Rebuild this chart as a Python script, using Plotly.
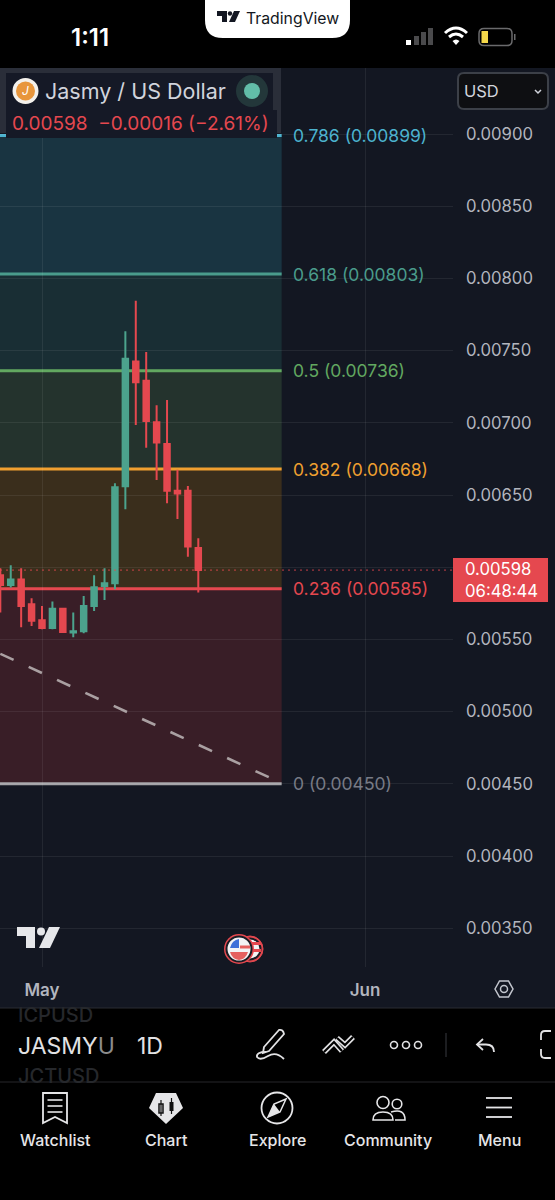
import re
from datetime import datetime, timedelta
import plotly.graph_objects as go

# ---- data -------------------------------------------------------------
dates = ["2025-04-27","2025-04-28","2025-04-29","2025-04-30","2025-05-01","2025-05-02","2025-05-03",
         "2025-05-04","2025-05-05","2025-05-06","2025-05-07","2025-05-08","2025-05-09","2025-05-10",
         "2025-05-11","2025-05-12","2025-05-13","2025-05-14","2025-05-15","2025-05-16"]
opens  = [.005944,.005877,.005914,.005743,.005632,.005579,.005713,.005547,.005556,.005732,.005870,.005889,.006560,.007424,.007292,.007004,.006854,.006530,.006530,.006133]
highs  = [.005993,.006013,.005993,.005785,.005732,.005762,.005713,.005686,.005801,.005944,.005993,.006581,.007634,.007846,.007491,.007121,.007158,.006674,.006563,.006200]
lows   = [.005686,.005859,.005584,.005593,.005570,.005570,.005552,.005515,.005542,.005697,.005773,.005847,.006401,.006985,.006828,.006604,.006443,.006334,.006073,.005824]
closes = [.005877,.005914,.005732,.005630,.005579,.005713,.005552,.005556,.005732,.005861,.005889,.006553,.007444,.007280,.007013,.006863,.006530,.006510,.006143,.005980]

fib_levels = [0.786, 0.618, 0.5, 0.382, 0.236, 0]
fib_prices = [0.00899, 0.00803, 0.00736, 0.00668, 0.00585, 0.00450]
fib_lines  = ["#4cb3cf", "#4a9c8c", "#62a860", "#f0a030", "#e5484f", "#a4a4a8"]
fib_fills  = ["rgba(59,198,219,0.17)", "rgba(59,158,144,0.17)", "rgba(124,188,99,0.17)", "rgba(255,158,0,0.17)", "rgba(234,68,69,0.18)"]
fib_text   = ["#4cb3cf", "#4a9c8c", "#62a860", "#f0a030", "#e5484f", "#787b86"]
fib_end = "2025-05-24"

trend_dates = ["2025-04-27", "2025-05-22 19:00"]
trend_prices = [0.00540, 0.004545]

price_ticks = [0.0090, 0.0085, 0.0080, 0.0075, 0.0070, 0.0065, 0.0060, 0.0055, 0.0050, 0.0045, 0.0040, 0.0035]
month_ticks = ["2025-05-01", "2025-06-01"]
month_labels = ["May", "Jun"]
last_price = 0.00598
FONT = "Inter"

# ---- layout helpers -----------------------------------------------------
W, H = 555, 1200
PX_PER_DAY = 10.42
may1 = datetime(2025, 5, 1)
x_left = may1 - timedelta(days=42 / PX_PER_DAY)
x_right = may1 + timedelta(days=(453 - 42) / PX_PER_DAY)
def price_at(y):
    return 0.009 - (y - 134) / 72.2 * 0.0005

def pp(s):
    out, i = [], 0
    for tok in s.split():
        if re.fullmatch(r"[A-Za-z]", tok):
            out.append(tok); i = 0
        else:
            v = float(tok)
            out.append(f"{v / W:.5f}" if i % 2 == 0 else f"{1 - v / H:.5f}")
            i += 1
    return " ".join(out)

shapes, annos = [], []
def path(s, fill=None, line=None, lw=0, layer="above"):
    shapes.append(dict(type="path", xref="paper", yref="paper", path=pp(s), layer=layer,
                       fillcolor=fill or "rgba(0,0,0,0)",
                       line=dict(color=line or "rgba(0,0,0,0)", width=lw)))
def rect(x0, y0, x1, y1, fill=None, line=None, lw=0, layer="above"):
    shapes.append(dict(type="rect", xref="paper", yref="paper", x0=x0 / W, x1=x1 / W, y0=1 - y0 / H, y1=1 - y1 / H,
                       layer=layer, fillcolor=fill or "rgba(0,0,0,0)",
                       line=dict(color=line or "rgba(0,0,0,0)", width=lw)))
def circ(cx, cy, r, fill=None, line=None, lw=0):
    shapes.append(dict(type="circle", xref="paper", yref="paper", x0=(cx - r) / W, x1=(cx + r) / W,
                       y0=1 - (cy + r) / H, y1=1 - (cy - r) / H, fillcolor=fill or "rgba(0,0,0,0)",
                       line=dict(color=line or "rgba(0,0,0,0)", width=lw)))
def seg(x0, y0, x1, y1, color, lw):
    path(f"M {x0} {y0} L {x1} {y1}", line=color, lw=lw)
def txt(x, y, s, size, color, anchor="left", weight=400, family=FONT):
    annos.append(dict(xref="paper", yref="paper", x=(x - 1.5 if anchor == "left" else x) / W, y=1 - y / H, text=s,
                      showarrow=False, xanchor=anchor, yanchor="middle", borderpad=0, align=anchor,
                      font=dict(size=size, color=color, family=family, weight=weight)))

# ---- backgrounds --------------------------------------------------------
rect(0, 68, 555, 1008, fill="#131722", layer="below")

# fib zones and lines
for i in range(len(fib_fills)):
    shapes.append(dict(type="rect", xref="x", yref="y", x0=x_left, x1=fib_end, y0=fib_prices[i + 1], y1=fib_prices[i],
                       fillcolor=fib_fills[i], line=dict(width=0), layer="below"))
for lev, pr, c in zip(fib_levels, fib_prices, fib_lines):
    shapes.append(dict(type="line", xref="x", yref="y", x0=x_left, x1=fib_end, y0=pr, y1=pr,
                       line=dict(color=c, width=3), layer="below"))
for lev, pr, c in zip(fib_levels, fib_prices, fib_text):
    annos.append(dict(xref="paper", yref="y", x=291 / W, y=pr, text=f"{lev} ({pr:.5f})", showarrow=False,
                      xanchor="left", yanchor="middle", font=dict(size=17.5, color=c, family=FONT)))

# last price dotted line and tag
shapes.append(dict(type="line", xref="paper", yref="y", x0=0, x1=453 / W, y0=last_price, y1=last_price,
                   line=dict(color="rgba(229,72,79,0.85)", width=1, dash="2px,4px")))
rect(453, 558, 548, 602, fill="#e5484f")
txt(465, 580, f"{last_price:.5f}<br>06:48:44", 16.7, "#ffffff", "left")

# legend
rect(0, 68, 281, 133, fill="#2a2e39")
rect(6, 73, 273, 110, fill="#151926")
rect(6, 110, 277, 138, fill="#151926")
circ(25.5, 91, 13, fill="#f4f1ec")
circ(25.5, 91, 9.5, fill="#e8963c")
txt(25.5, 91, "<i>J</i>", 12, "#ffffff", "center")
txt(45, 91, "Jasmy / US Dollar", 21.5, "#d1d4dc")
circ(252, 91, 16, fill="#23373a")
circ(252, 91, 8, fill="#62bda8")
txt(12, 124, "0.00598 &nbsp;\u22120.00016 (\u22122.61%)", 19, "#e5484f")

# USD selector
path("M 464 73 L 542 73 Q 548 73 548 79 L 548 103 Q 548 109 542 109 L 464 109 Q 458 109 458 103 L 458 79 Q 458 73 464 73 Z",
     fill="#0e0f12", line="#3c4048", lw=2)
txt(464, 91, "USD", 16.5, "#d1d4dc")
path("M 535 90 L 538 93 L 541 90", line="#d1d4dc", lw=1.5)

# watermark logo
path("M 17 927 L 35 927 L 35 948 L 26 948 L 26 936 L 17 936 Z", fill="#e6e7ea")
circ(41, 931.5, 4, fill="#e6e7ea")
path("M 49 927 L 60 927 L 50 948 L 39 948 Z", fill="#e6e7ea")

# flag badges
circ(250, 949, 13, fill="#e5484f", line="#e5484f", lw=1)
circ(250, 949, 10.5, fill="#f3f3f5", line="#1a1c24", lw=2)
rect(250, 942, 261, 945, fill="#e5484f")
rect(250, 949, 261, 952, fill="#e5484f")
circ(239, 949, 15, fill="#e5484f")
circ(239, 949, 12.5, fill="#f3f3f5", line="#1a1c24", lw=2)
path("M 230 952 L 248 952 Q 246 959 239 960 Q 232 959 230 952 Z", fill="#e5605f")
rect(240, 945.5, 250, 948.5, fill="#e5605f")
path("M 230 948 L 239 948 L 239 939 Q 232 940 230 948 Z", fill="#3e6fd8")

# time axis settings icon
path("M 495 989 L 499.5 981 L 508.5 981 L 513 989 L 508.5 997 L 499.5 997 Z", line="#c3c6ce", lw=1.5)
circ(504, 989, 3.5, line="#c3c6ce", lw=1.5)

# top bar
rect(0, 0, 555, 68, fill="#000000")
path("M 205 0 L 350 0 L 350 20 Q 350 38 332 38 L 223 38 Q 205 38 205 20 Z", fill="#ffffff")
path("M 217 11 L 227 11 L 227 22 L 222 22 L 222 16 L 217 16 Z", fill="#131722")
circ(230, 13.5, 2.2, fill="#131722")
path("M 234 11 L 240 11 L 235 22 L 229 22 Z", fill="#131722")
txt(246, 18, "TradingView", 15.8, "#131722")
txt(90, 37, "1:11", 24, "#ffffff", "center", 600)
for bx, by, bc in [(406, 40, "#ffffff"), (414, 36, "#4a4a4c"), (421, 32, "#4a4a4c"), (428, 28, "#4a4a4c")]:
    rect(bx, by, bx + 5, 45, fill=bc)
path("M 445 33 Q 456 23 467 33", line="#ffffff", lw=3)
path("M 449 37 Q 456 31 463 37", line="#ffffff", lw=3)
path("M 452.5 41 L 456 45 L 459.5 41 Q 456 38 452.5 41 Z", fill="#ffffff")
path("M 484 28.5 L 507 28.5 Q 512 28.5 512 33.5 L 512 40.5 Q 512 45.5 507 45.5 L 484 45.5 Q 479 45.5 479 40.5 L 479 33.5 Q 479 28.5 484 28.5 Z", line="#6a6a6c", lw=1.5)
rect(481.5, 31, 488, 43, fill="#f4d84a")
rect(514, 34, 515.5, 40, fill="#6a6a6c")

# bottom toolbar panels
rect(0, 1008, 555, 1200, fill="#000000")
seg(0, 1008, 555, 1008, "#2a2c32", 1)
seg(0, 1082, 555, 1082, "#26272b", 1)
txt(18, 1015, "ICPUSD", 20, "#26282c", weight=500)
txt(18, 1076, "JCTUSD", 20, "#26282c", weight=500)
txt(18, 1046, "JASMY<span style='color:#8c8c8c'>U</span>", 23, "#e2e2e4")
txt(137, 1046, "1D", 23, "#e2e2e4")
path("M 264 1047 L 279 1030 Q 283 1029 284 1034 L 269 1051 L 263 1053 Z", line="#e2e2e4", lw=1.8)
path("M 266 1052 Q 256 1052 257 1057 Q 260 1061 268 1056 Q 276 1051 284 1059", line="#e2e2e4", lw=1.8)
for pts in ("M 324 1052 L 334 1042 L 342 1051", "M 337 1038 L 345 1045 L 353 1037"):
    path(pts, line="#e2e2e4", lw=5.5)
for pts in ("M 324 1052 L 334 1042 L 342 1051", "M 337 1038 L 345 1045 L 353 1037"):
    path(pts, line="#000000", lw=2.2)
for cx in (394, 406, 418):
    circ(cx, 1045, 3.5, line="#e2e2e4", lw=1.6)
seg(446, 1033, 446, 1057, "#26272b", 1.5)
path("M 483 1039 L 477 1044.5 L 483 1050", line="#e2e2e4", lw=1.8)
path("M 477 1044.5 L 486 1044.5 Q 494 1044.5 494 1052", line="#e2e2e4", lw=1.8)
path("M 551 1031 L 545 1031 Q 541 1031 541 1035 L 541 1040", line="#e2e2e4", lw=1.8)
path("M 541 1049 L 541 1054 Q 541 1058 545 1058 L 551 1058", line="#e2e2e4", lw=1.8)

# bottom navigation
NAV = "#e6e6e8"
path("M 43 1093 L 67 1093 L 67 1123 L 55 1117 L 43 1123 Z", line=NAV, lw=1.8)
for y in (1100, 1106, 1112):
    seg(47.5, y, 62.5, y, NAV, 1.6)
path("M 156 1093 L 176 1093 L 183 1108 L 166 1124 L 149 1108 Z", fill=NAV)
rect(159, 1104, 163, 1113, line="#111111", lw=1.5)
seg(161, 1100, 161, 1116, "#111111", 1.2)
rect(169.5, 1102, 173.5, 1111, fill="#111111")
seg(171.5, 1098, 171.5, 1114, "#111111", 1.2)
circ(277, 1108, 15.5, line=NAV, lw=1.8)
path("M 286 1099 L 280 1112 L 268 1117 L 274 1104 Z", line=NAV, lw=1.5)
path("M 280 1112 L 268 1117 L 274 1104 Z", fill=NAV)
circ(383, 1102.5, 6, line=NAV, lw=1.6)
circ(397, 1104, 4.8, line=NAV, lw=1.6)
path("M 373 1120 Q 373 1112 383 1112 Q 393 1112 393 1120 Z", line=NAV, lw=1.6)
path("M 391 1112 Q 405 1108 405 1120 L 395 1120", line=NAV, lw=1.6)
for y in (1098, 1107.5, 1117):
    seg(486, y, 512, y, NAV, 1.8)
for x, s in [(55, "Watchlist"), (166, "Chart"), (277, "Explore"), (388, "Community"), (499, "Menu")]:
    txt(x, 1140, s, 16, NAV, "center", 500)

# ---- traces --------------------------------------------------------------
fig = go.Figure()
fig.add_trace(go.Scatter(x=trend_dates, y=trend_prices, mode="lines", hoverinfo="skip",
                         line=dict(color="#aaa0a2", width=2.6, dash="14.6px,16.6px")))
fig.add_trace(go.Candlestick(x=dates, open=opens, high=highs, low=lows, close=closes, whiskerwidth=0,
                             hoverinfo="skip",
                             increasing=dict(line=dict(color="#4ca38d", width=2), fillcolor="#4ca38d"),
                             decreasing=dict(line=dict(color="#e5484f", width=2), fillcolor="#e5484f")))

fig.update_layout(
    width=W, height=H, autosize=False, margin=dict(l=0, r=0, t=0, b=0), showlegend=False,
    paper_bgcolor="#000000", plot_bgcolor="rgba(0,0,0,0)", boxgap=0.25,
    shapes=shapes, annotations=annos, font=dict(family=FONT),
    xaxis=dict(domain=[0, 453 / W], range=[x_left, x_right], type="date", rangeslider=dict(visible=False),
               tickvals=month_ticks, ticktext=month_labels, ticklen=0, ticklabelstandoff=11,
               showgrid=True, gridcolor="rgba(255,255,255,0.07)", gridwidth=1, zeroline=False, showline=False,
               tickfont=dict(size=17, color="#b2b5be", family=FONT, weight=600)),
    yaxis=dict(domain=[1 - 967 / H, 1 - 68 / H], range=[price_at(967), price_at(68)], side="right",
               tickvals=price_ticks, ticktext=[f"{p:.5f}" for p in price_ticks], ticklen=0, ticklabelstandoff=12,
               showgrid=True, gridcolor="rgba(255,255,255,0.07)", gridwidth=1, zeroline=False, showline=False,
               tickfont=dict(size=16.7, color="#b2b5be", family=FONT)),
)

fig.write_html("out.html", config=dict(displayModeBar=False, staticPlot=True),
               post_script="document.body.style.margin='0';document.body.style.background='#000';")
